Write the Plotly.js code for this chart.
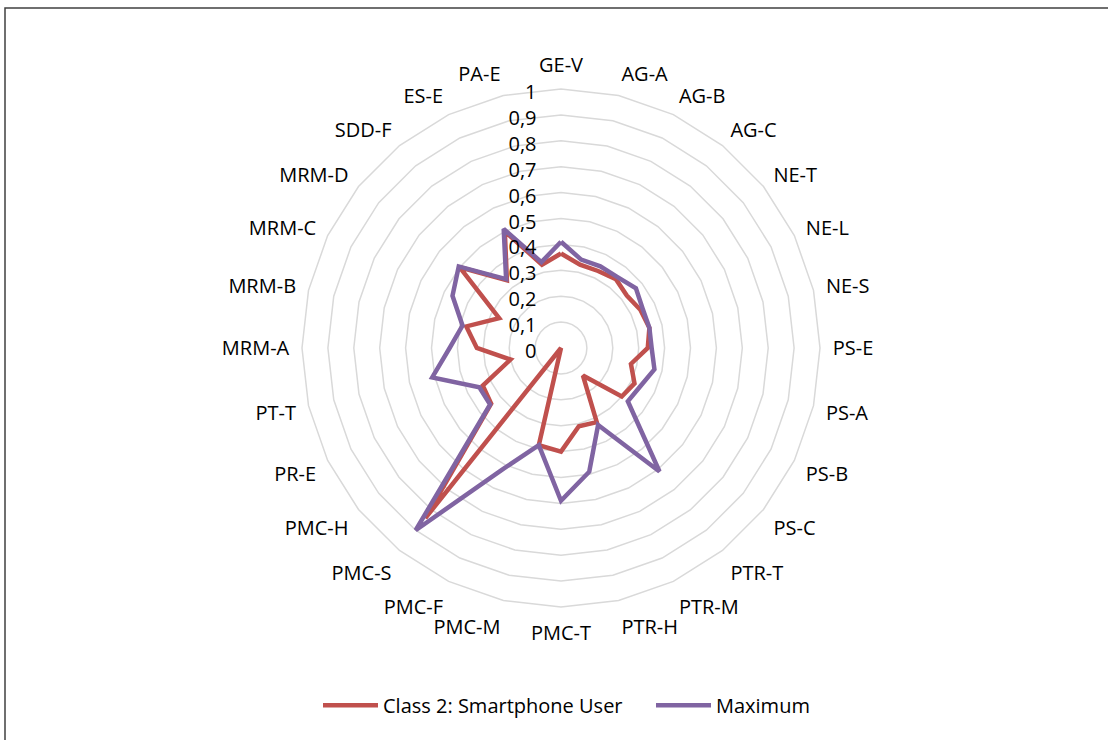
<!DOCTYPE html>
<html>
<head>
<meta charset="utf-8">
<script src="https://cdn.plot.ly/plotly-3.0.1.min.js"></script>
<style>html,body{margin:0;padding:0;background:#fff;}#chart{width:1108px;height:740px;}</style>
</head>
<body>
<div id="chart"></div>
<script>
const categories = ["GE-V","AG-A","AG-B","AG-C","NE-T","NE-L","NE-S","PS-E","PS-A","PS-B","PS-C","PTR-T","PTR-M","PTR-H","PMC-T","PMC-M","PMC-F","PMC-S","PMC-H","PR-E","PT-T","MRM-A","MRM-B","MRM-C","MRM-D","SDD-F","ES-E","PA-E"];
const class2Values = [0.365,0.33,0.33,0.34,0.325,0.34,0.35,0.335,0.277,0.315,0.30,0.136,0.318,0.31,0.40,0.385,0.0,0.84,0.345,0.335,0.20,0.325,0.375,0.265,0.50,0.335,0.50,0.33];
const maximumValues = [0.41,0.35,0.35,0.35,0.37,0.35,0.35,0.35,0.37,0.34,0.33,0.61,0.33,0.49,0.59,0.385,0.52,0.90,0.35,0.35,0.51,0.43,0.39,0.465,0.505,0.34,0.51,0.34];
const seriesNames = ["Class 2: Smartphone User","Maximum"];
const radialTicks = [0,0.1,0.2,0.3,0.4,0.5,0.6,0.7,0.8,0.9,1];

function closed(a){ return a.concat([a[0]]); }

const traces = [
  {type:"scatterpolar", mode:"lines", name:seriesNames[0], r:closed(class2Values), theta:closed(categories),
   line:{color:"#C0504D", width:4.5}},
  {type:"scatterpolar", mode:"lines", name:seriesNames[1], r:closed(maximumValues), theta:closed(categories),
   line:{color:"#8064A2", width:4.5}}
];

const layout = {
  width:1108, height:740,
  margin:{l:0,r:0,t:0,b:0},
  paper_bgcolor:"#fff",
  separators:",.",
  font:{family:"Open Sans, sans-serif", size:20, color:"#000"},
  showlegend:true,
  legend:{orientation:"h", x:318/1108, xanchor:"left", y:0.047, yanchor:"middle", itemwidth:55,
          entrywidth:263, entrywidthmode:"pixels",
          font:{size:20, color:"#000"}, traceorder:"normal"},
  polar:{
    domain:{x:[(561-259)/1108,(561+259)/1108], y:[1-(348+259)/740, 1-(348-259)/740]},
    gridshape:"linear",
    bgcolor:"#fff",
    radialaxis:{range:[0,1], tickvals:radialTicks, angle:90, showline:false, ticks:"outside", ticklen:6,
                tickcolor:"rgba(0,0,0,0)",
                gridcolor:"#d9d9d9", gridwidth:1.5, tickfont:{size:20, color:"#000"}, side:"counterclockwise"},
    angularaxis:{direction:"clockwise", rotation:90, showgrid:false, showline:true, linecolor:"#d9d9d9", linewidth:1.5,
                 ticks:"outside", ticklen:8, tickcolor:"rgba(0,0,0,0)", tickfont:{size:20, color:"#000"}}
  },
  shapes:[{type:"rect", xref:"paper", yref:"paper", x0:5/1108, x1:1.05, y0:-0.05, y1:1-8/740,
           line:{color:"#404040", width:1.5}, fillcolor:"rgba(0,0,0,0)"}]
};

Plotly.newPlot("chart", traces, layout, {displayModeBar:false, staticPlot:true});
</script>
</body>
</html>
